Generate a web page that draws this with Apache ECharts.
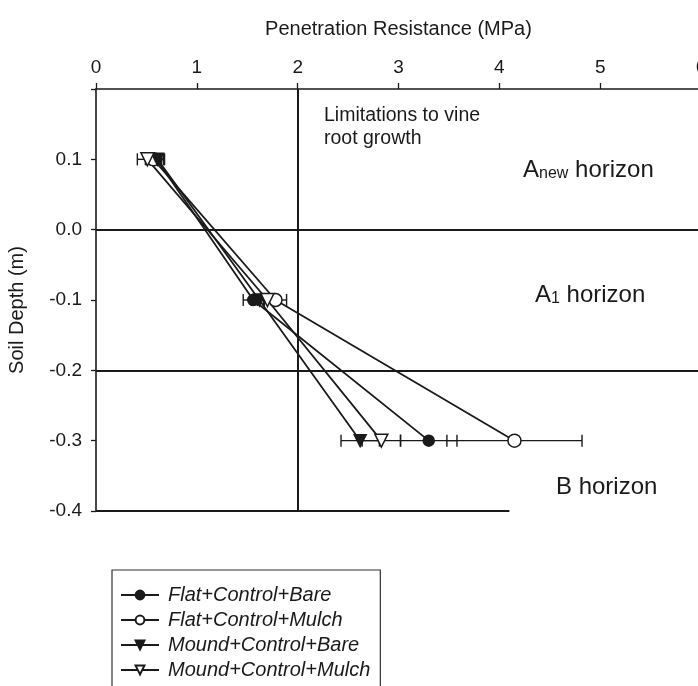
<!DOCTYPE html>
<html><head><meta charset="utf-8">
<script src="https://cdn.jsdelivr.net/npm/echarts@6/dist/echarts.min.js"></script>
<style>html,body{margin:0;padding:0;background:#fff}#c{width:698px;height:686px}</style>
</head><body><div id="c"></div>
<script>
// ---- data ----
const depths = [0.1, -0.1, -0.3];
const seriesNames = ['Flat+Control+Bare', 'Flat+Control+Mulch', 'Mound+Control+Bare', 'Mound+Control+Mulch'];
const flatBare = [0.60, 1.56, 3.30];
const flatBareErr = [0.07, 0.10, 0.28];
const flatMulch = [0.57, 1.78, 4.15];
const flatMulchErr = [0.08, 0.11, 0.67];
const moundBare = [0.61, 1.62, 2.62];
const moundBareErr = [0.07, 0.08, 0.19];
const moundMulch = [0.51, 1.70, 2.83];
const moundMulchErr = [0.10, 0.10, 0.19];
const horizonBounds = [0.0, -0.2];
const rootLimit = 2;
const baseLine = [[0, -0.4], [4.1, -0.4]];
const xRange = [0, 6];
const yRange = [-0.4, 0.2];

const FONT = 'Liberation Sans, Arial, Helvetica, sans-serif';
const INK = '#1a1a1a';

const means = [flatBare, flatMulch, moundBare, moundMulch];
const errs = [flatBareErr, flatMulchErr, moundBareErr, moundMulchErr];
const symbols = [
  {symbol: 'circle', size: 11, fill: INK, rot: 0},
  {symbol: 'circle', size: 13, fill: '#fff', rot: 0},
  {symbol: 'triangle', size: 12, fill: INK, rot: 180},
  {symbol: 'triangle', size: 13, fill: '#fff', rot: 180}
];

function renderErr(params, api) {
  const y = api.value(0), lo = api.value(1), hi = api.value(2);
  const p1 = api.coord([lo, y]), p2 = api.coord([hi, y]);
  const h = 6;
  const st = {stroke: INK, lineWidth: 1.4};
  return {type: 'group', children: [
    {type: 'line', shape: {x1: p1[0], y1: p1[1], x2: p2[0], y2: p2[1]}, style: st},
    {type: 'line', shape: {x1: p1[0], y1: p1[1] - h, x2: p1[0], y2: p1[1] + h}, style: st},
    {type: 'line', shape: {x1: p2[0], y1: p2[1] - h, x2: p2[0], y2: p2[1] + h}, style: st}
  ]};
}

const series = [];
means.forEach((m, i) => {
  series.push({
    type: 'custom', name: seriesNames[i] + ' err', renderItem: renderErr, z: 1,
    encode: {x: [1, 2], y: 0}, silent: true,
    data: m.map((v, k) => [depths[k], v - errs[i][k], v + errs[i][k]])
  });
});
means.forEach((m, i) => {
  const s = symbols[i];
  series.push({
    type: 'line', name: seriesNames[i], z: 3,
    data: m.map((v, k) => [v, depths[k]]),
    symbol: s.symbol, symbolSize: s.size, symbolRotate: s.rot, showAllSymbol: true,
    lineStyle: {color: INK, width: 1.8},
    itemStyle: {color: s.fill, borderColor: INK, borderWidth: 1.5},
    emphasis: {disabled: true}
  });
});
series.push({
  type: 'line', name: 'refs', data: [], silent: true, z: 2,
  markLine: {
    silent: true, symbol: ['none', 'none'], label: {show: false}, animation: false,
    lineStyle: {color: INK, width: 2, type: 'solid'},
    emphasis: {disabled: true},
    data: [
      {yAxis: horizonBounds[0]},
      {yAxis: horizonBounds[1]},
      {xAxis: rootLimit},
      [{coord: baseLine[0]}, {coord: baseLine[1]}]
    ]
  }
});

const chart = echarts.init(document.getElementById('c'), null, {renderer: 'canvas'});
chart.setOption({
  animation: false,
  backgroundColor: '#fff',
  textStyle: {fontFamily: FONT},
  grid: {left: 96, top: 89, right: -3, bottom: 175, outerBoundsMode: 'none', containLabel: false},
  xAxis: {
    type: 'value', position: 'top', min: xRange[0], max: xRange[1], interval: 1,
    name: 'Penetration Resistance (MPa)', nameLocation: 'middle', nameGap: 50,
    nameTextStyle: {fontSize: 20, color: INK, fontFamily: FONT},
    axisLine: {show: true, onZero: false, lineStyle: {color: INK, width: 1.6}},
    axisTick: {show: true, inside: false, length: 6, lineStyle: {color: INK, width: 1.3}},
    axisLabel: {fontSize: 19, color: INK, margin: 12, fontFamily: FONT, showMaxLabel: true, showMinLabel: true, hideOverlap: false},
    splitLine: {show: false}
  },
  yAxis: {
    type: 'value', min: yRange[0], max: yRange[1], interval: 0.1,
    name: 'Soil Depth (m)', nameLocation: 'middle', nameGap: 69, nameRotate: 90,
    nameTextStyle: {fontSize: 20, color: INK, fontFamily: FONT, padding: [0, 20, 0, 0]},
    axisLine: {show: true, onZero: false, lineStyle: {color: INK, width: 1.6}},
    axisTick: {show: true, inside: false, length: 5, lineStyle: {color: INK, width: 1.3}},
    axisLabel: {
      fontSize: 19, color: INK, margin: 14, fontFamily: FONT,
      formatter: v => {
        const r = Math.round(v * 10) / 10;
        if (Math.abs(r - yRange[1]) < 1e-9) return '';
        return (r === 0 ? 0 : r).toFixed(1);
      }
    },
    splitLine: {show: false}
  },
  legend: {
    orient: 'vertical', left: 112, top: 570, height: 200, data: seriesNames,
    itemWidth: 38, itemHeight: 11, itemGap: 5,
    padding: [15, 10, 30, 8], borderColor: '#333', borderWidth: 1.2, backgroundColor: '#fff',
    textStyle: {fontStyle: 'italic', fontSize: 20, lineHeight: 20, color: INK, fontFamily: FONT, padding: [0, 0, 0, 4]},
    selectedMode: false
  },
  graphic: [
    {type: 'text', left: 324, top: 104, silent: true,
     style: {text: 'Limitations to vine\nroot growth', font: '19.5px ' + FONT, fill: INK, lineHeight: 23}},
    {type: 'text', left: 523, top: 158, silent: true,
     style: {text: '{a|A}{s|new}{a| horizon}', fill: INK,
       rich: {a: {fontSize: 24, fontFamily: FONT, fill: INK, verticalAlign: 'bottom'},
              s: {fontSize: 16, fontFamily: FONT, fill: INK, verticalAlign: 'bottom'}}}},
    {type: 'text', left: 535, top: 283, silent: true,
     style: {text: '{a|A}{s|1}{a| horizon}', fill: INK,
       rich: {a: {fontSize: 24, fontFamily: FONT, fill: INK, verticalAlign: 'bottom'},
              s: {fontSize: 16, fontFamily: FONT, fill: INK, verticalAlign: 'bottom'}}}},
    {type: 'text', left: 556, top: 475, silent: true,
     style: {text: 'B horizon', font: '24px ' + FONT, fill: INK}}
  ],
  series: series
});
</script></body></html>
